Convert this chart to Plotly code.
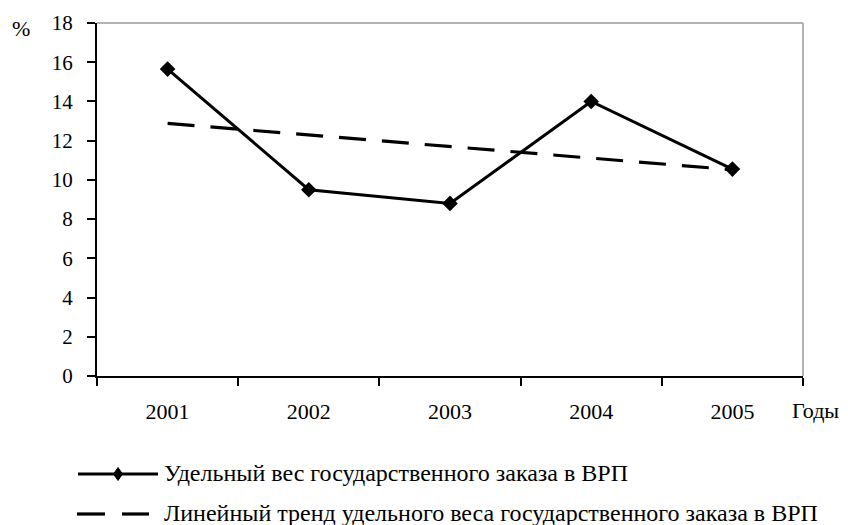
import plotly.graph_objects as go

years = ["2001", "2002", "2003", "2004", "2005"]
share = [15.65, 9.5, 8.8, 14.0, 10.55]
trend = [12.88, 12.29, 11.70, 11.11, 10.52]
y_ticks = [0, 2, 4, 6, 8, 10, 12, 14, 16, 18]

name_share = "Удельный вес государственного заказа в ВРП"
name_trend = "Линейный тренд удельного веса государственного заказа в ВРП"

FONT = "Liberation Serif, Times New Roman, serif"

# the page adds an 8px body margin, so the figure is 8px smaller and shifted
OFF = 8
W, H = 848 - OFF, 525 - OFF
L, R, T, B = 97 - OFF, 45, 23 - OFF, 149
PW, PH = W - L - R, H - T - B


def px(xp):
    return (xp - OFF - L) / PW


def py(yp):
    return (H - B - (yp - OFF)) / PH


fig = go.Figure()
fig.add_trace(go.Scatter(
    x=years, y=share, mode="lines+markers", name=name_share,
    line=dict(color="black", width=3),
    marker=dict(symbol="diamond", size=12, color="black"),
))
fig.add_trace(go.Scatter(
    x=years, y=trend, mode="lines", name=name_trend,
    line=dict(color="black", width=3.2, dash="27px,16px"),
))

y1, y2 = 474, 514
dx, dy = 4.5 / PW, 6.5 / PH
shapes = [
    dict(type="line", xref="paper", yref="paper", x0=1, x1=1, y0=0, y1=1,
         line=dict(color="#9a9a9a", width=1.5)),
    dict(type="line", xref="paper", yref="paper", x0=0, x1=1, y0=1, y1=1,
         line=dict(color="#9a9a9a", width=1.5)),
    dict(type="line", xref="paper", yref="paper", x0=px(78), x1=px(158),
         y0=py(y1), y1=py(y1), line=dict(color="black", width=3)),
    dict(type="path", xref="paper", yref="paper",
         path=f"M {px(118)-dx} {py(y1)} L {px(118)} {py(y1)+dy} L {px(118)+dx} {py(y1)} L {px(118)} {py(y1)-dy} Z",
         fillcolor="black", line=dict(color="black", width=1)),
    dict(type="line", xref="paper", yref="paper", x0=px(77), x1=px(105),
         y0=py(y2), y1=py(y2), line=dict(color="black", width=3.2)),
    dict(type="line", xref="paper", yref="paper", x0=px(122), x1=px(149),
         y0=py(y2), y1=py(y2), line=dict(color="black", width=3.2)),
]

annotations = [
    dict(text="%", xref="paper", yref="paper", x=px(21), y=py(29),
         xanchor="center", yanchor="middle", showarrow=False,
         font=dict(family=FONT, size=22)),
    dict(text="Годы", xref="paper", yref="paper", x=px(841), y=py(410),
         xanchor="right", yanchor="middle", showarrow=False,
         font=dict(family=FONT, size=22)),
    dict(text=name_share, xref="paper", yref="paper", x=px(162), y=py(y1 - 1),
         xanchor="left", yanchor="middle", showarrow=False,
         font=dict(family=FONT, size=24)),
    dict(text=name_trend, xref="paper", yref="paper", x=px(162), y=py(y2 - 1),
         xanchor="left", yanchor="middle", showarrow=False,
         font=dict(family=FONT, size=24)),
]

fig.update_layout(
    width=W, height=H,
    margin=dict(l=L, r=R, t=T, b=B, autoexpand=False),
    paper_bgcolor="white", plot_bgcolor="white",
    font=dict(family=FONT, size=21, color="black"),
    showlegend=False,
    xaxis=dict(
        type="category", range=[-0.5, 4.5],
        tickson="boundaries", ticks="outside", ticklen=8,
        tickcolor="black", tickwidth=2,
        showline=True, linecolor="black", linewidth=2,
        showgrid=False, zeroline=False,
        tickfont=dict(family=FONT, size=22),
        ticklabelstandoff=15,
    ),
    yaxis=dict(
        range=[0, 18], tickvals=y_ticks,
        ticks="outside", ticklen=8, tickcolor="black", tickwidth=2,
        showline=True, linecolor="black", linewidth=2,
        showgrid=False, zeroline=False,
        tickfont=dict(family=FONT, size=21),
        ticklabelstandoff=10,
    ),
    shapes=shapes,
    annotations=annotations,
)

fig.write_html("out.html")
